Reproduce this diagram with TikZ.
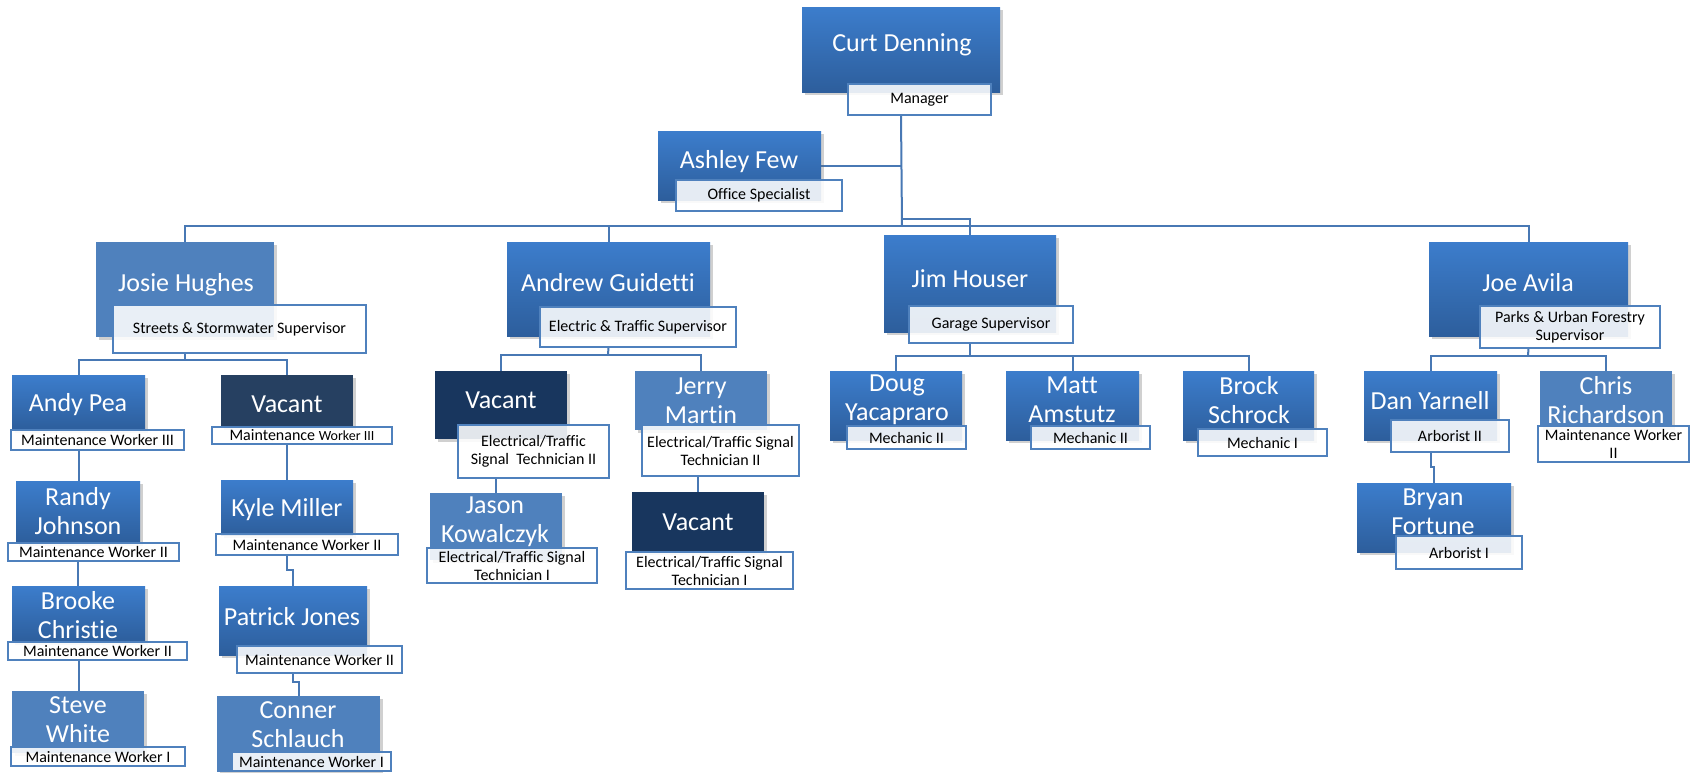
\documentclass[tikz,border=0pt]{standalone}
\usepackage{fontspec}
\setmainfont{Carlito}[Ligatures={NoCommon}]
\usetikzlibrary{shadows,backgrounds}
\definecolor{btop}{RGB}{60,125,204}
\definecolor{bbot}{RGB}{45,94,156}
\definecolor{flatblue}{RGB}{79,129,189}
\definecolor{darkA}{RGB}{38,64,97}
\definecolor{darkB}{RGB}{24,54,94}
\definecolor{edgeblue}{RGB}{79,129,189}
\definecolor{lineblue}{RGB}{72,120,180}
\tikzset{
 boxbase/.style={rectangle, inner sep=0pt, outer sep=0pt,
   drop shadow={shadow xshift=3pt, shadow yshift=-3pt, opacity=0.3, fill=black!60}},
 grad/.style={boxbase, top color=btop, bottom color=bbot},
 flatb/.style={boxbase, fill=flatblue},
 vacone/.style={boxbase, fill=darkA},
 vactwo/.style={boxbase, fill=darkB},
 lab/.style={rectangle, draw=edgeblue, line width=1.3pt, fill=white, fill opacity=0.88,
   text opacity=1, inner sep=0pt, outer sep=0pt, align=center,
   font=\fontsize{16}{18}\selectfont, text=black},
 nm/.style={text=white, align=center, font=\fontsize{26}{29}\selectfont, inner sep=0pt},
 conn/.style={draw=lineblue, line width=2pt},
}
\newcommand\pbox[9]{%
  \node[#2, anchor=north west, minimum width={(#5)-(#3)}, minimum height={(#6)-(#4)}] (#1) at (#3,#4) {};
  \node[nm] (#1N) at (#7,#8) {#9};}
\newcommand\plab[6]{%
  \node[lab, anchor=north west, minimum width={(#4)-(#2)}, minimum height={(#5)-(#3)}] (#1) at (#2,#3) {#6};}
\begin{document}
\begin{tikzpicture}[x=1pt,y=-1pt]
\useasboundingbox (0,0) rectangle (1690,772);
% top
\pbox{curt}{grad}{802}{7}{1000}{92}{902}{45}{Curt Denning}
\plab{curtL}{848}{84}{991}{115}{Manager}
\pbox{ashley}{grad}{658}{131}{821}{200}{739}{162}{Ashley Few}
\plab{ashleyL}{676}{180}{842}{211}{Office Specialist}
% supervisors
\pbox{josie}{flatb}{96}{242}{274}{337}{186}{285}{Josie Hughes}
\plab{josieL}{113}{305}{366}{353}{Streets \& Stormwater Supervisor}
\pbox{andrew}{grad}{507}{242}{710}{336}{608}{283}{Andrew Guidetti}
\plab{andrewL}{540}{307}{736}{347}{Electric \& Traffic Supervisor}
\pbox{jim}{grad}{884}{235}{1056}{332}{970}{279}{Jim Houser}
\plab{jimL}{909}{306}{1073}{343}{Garage Supervisor}
\pbox{joe}{grad}{1429}{242}{1628}{336}{1528}{283}{Joe Avila}
\plab{joeL}{1480}{306}{1660}{348}{Parks \& Urban Forestry\\Supervisor}
% streets
\pbox{andy}{grad}{12}{375}{145}{430}{78}{405}{Andy Pea}
\plab{andyL}{11}{430}{184}{450}{Maintenance Worker III}
\pbox{vacS}{vacone}{221}{375}{353}{427}{287}{404}{Vacant}
\plab{vacSL}{212}{427}{392}{444}{Maintenance {\fontsize{14}{16}\selectfont Worker III}}
\pbox{randy}{grad}{16}{481}{140}{543}{78}{511}{Randy\\Johnson}
\plab{randyL}{8}{543}{179}{561}{Maintenance Worker II}
\pbox{kyle}{grad}{221}{480}{353}{535}{287}{510}{Kyle Miller}
\plab{kyleL}{216}{534}{398}{555}{Maintenance Worker II}
\pbox{brooke}{grad}{12}{586}{145}{642}{78}{615}{Brooke\\Christie}
\plab{brookeL}{8}{642}{187}{660}{Maintenance Worker II}
\pbox{patrick}{grad}{219}{586}{367}{655}{292}{617}{Patrick Jones}
\plab{patrickL}{237}{646}{402}{673}{Maintenance Worker II}
\pbox{steve}{flatb}{12}{691}{144}{753}{78}{720}{Steve\\White}
\plab{steveL}{11}{747}{185}{766}{Maintenance Worker I}
\pbox{conner}{flatb}{217}{696}{380}{772}{298}{725}{Conner\\Schlauch}
\plab{connerL}{232}{752}{391}{771}{Maintenance Worker I}
% electric
\pbox{vacA}{vactwo}{435}{371}{567}{439}{501}{400}{Vacant}
\plab{vacAL}{458}{425}{609}{478}{Electrical/Traffic\\Signal\ \ Technician II}
\pbox{jerry}{flatb}{635}{371}{767}{430}{701}{401}{Jerry\\Martin}
\plab{jerryL}{642}{425}{799}{476}{Electrical/Traffic Signal\\Technician II}
\pbox{jason}{flatb}{430}{493}{562}{560}{495}{522}{Jason\\Kowalczyk}
\plab{jasonL}{427}{548}{597}{583}{Electrical/Traffic Signal\\Technician I}
\pbox{vacB}{vactwo}{632}{492}{764}{552}{698}{522}{Vacant}
\plab{vacBL}{626}{552}{793}{589}{Electrical/Traffic Signal\\Technician I}
% garage
\pbox{doug}{grad}{830}{371}{962}{440}{897}{400}{Doug\\Yacapraro}
\plab{dougL}{847}{426}{966}{449}{Mechanic II}
\pbox{matt}{grad}{1006}{371}{1139}{440}{1072}{400}{Matt\\Amstutz}
\plab{mattL}{1031}{426}{1150}{449}{Mechanic II}
\pbox{brock}{grad}{1183}{371}{1314}{440}{1249}{400}{Brock\\Schrock}
\plab{brockL}{1198}{429}{1327}{456}{Mechanic I}
% parks
\pbox{dan}{grad}{1364}{371}{1497}{440}{1430}{401}{Dan Yarnell}
\plab{danL}{1391}{420}{1509}{452}{Arborist II}
\pbox{chris}{flatb}{1540}{371}{1672}{427}{1606}{400}{Chris\\Richardson}
\plab{chrisL}{1538}{426}{1689}{462}{Maintenance Worker\\II}
\pbox{bryan}{grad}{1357}{483}{1511}{552}{1433}{512}{Bryan\\Fortune}
\plab{bryanL}{1396}{536}{1522}{569}{Arborist I}
% connectors
\begin{scope}[on background layer]
\fill[white] (0,0) rectangle (1690,772);
\coordinate (b0) at (902,226);
\coordinate (j0) at (902,219);
\draw[conn] (curt.south |- curtL.south) -- (b0);
\draw[conn] (ashley.east) -- (ashley.east -| curt.south);
\draw[conn] (josie.north) |- (b0) -| (joe.north);
\draw[conn] (andrew.north) -- (andrew.north |- b0);
\draw[conn] (j0) -| (jim.north);
% streets
\coordinate (bj) at (185,360);
\draw[conn] (josie.south |- josieL.south) -- (bj);
\draw[conn] (andy.north) |- (bj) -| (vacS.north);
\draw[conn] (andy.south |- andyL.south) -- (andy.south |- randy.north);
\draw[conn] (randy.south |- randyL.south) -- (randy.south |- brooke.north);
\draw[conn] (brooke.south |- brookeL.south) -- (brooke.south |- steve.north);
\draw[conn] (vacS.south |- vacSL.south) -- (vacS.south |- kyle.north);
\draw[conn] (kyle.south |- kyleL.south) -- ++(0,15) -| (patrick.north);
\draw[conn] (patrick.south |- patrickL.south) -- ++(0,9) -| (conner.north);
% electric
\coordinate (ba) at (608,355);
\draw[conn] (andrew.south |- andrewL.south) -- (ba);
\draw[conn] (vacA.north) |- (ba) -| (jerry.north);
\draw[conn] (jason.north) -- (jason.north |- vacAL.south);
\draw[conn] (vacB.north) -- (vacB.north |- jerryL.south);
% garage
\coordinate (bh) at (970,356);
\draw[conn] (jim.south |- jimL.south) -- (bh);
\draw[conn] (doug.north) |- (bh) -| (brock.north);
\draw[conn] (matt.north) -- (matt.north |- bh);
% parks
\coordinate (bv) at (1528,356);
\draw[conn] (joe.south |- joeL.south) -- (bv);
\draw[conn] (dan.north) |- (bv) -| (chris.north);
\draw[conn] (dan.south |- danL.south) -- ++(0,15) -| (bryan.north);
\end{scope}
\end{tikzpicture}
\end{document}
